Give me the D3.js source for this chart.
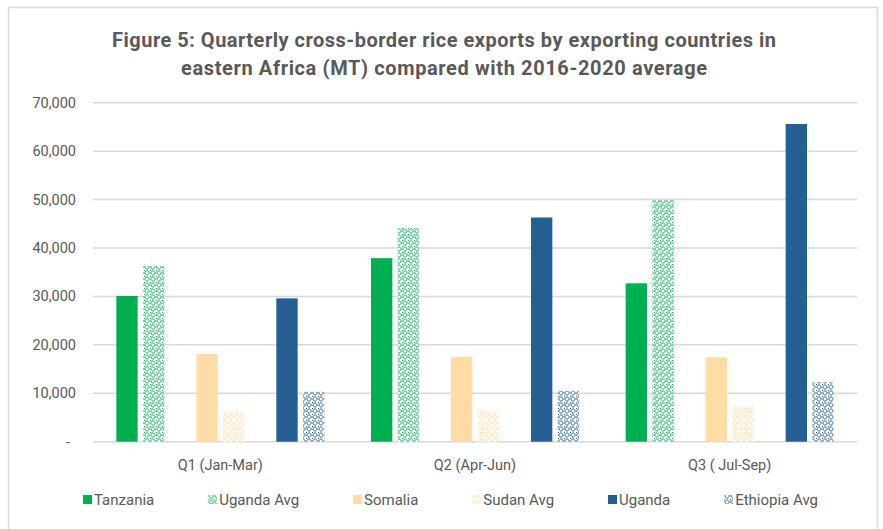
<!DOCTYPE html>
<html>
<head>
<meta charset="utf-8">
<script src="https://cdn.jsdelivr.net/npm/d3@7"></script>
<style>
  body { margin: 0; background: #fff; }
  svg text { font-family: "Liberation Sans Narrow", Roboto, "Noto Sans", sans-serif; fill: #595959; }
</style>
</head>
<body>
<div id="chart"></div>
<script>
// quarters on the x axis
const quarters = ["Q1 (Jan-Mar)", "Q2 (Apr-Jun)", "Q3 ( Jul-Sep)"];
// series, in drawing order
const seriesNames = ["Tanzania", "Uganda Avg", "Somalia", "Sudan Avg", "Uganda", "Ethiopia Avg"];
const seriesColors = ["#00b050", "#00b050", "#ffdba6", "#ffdba6", "#255e91", "#255e91"];
const seriesPatterned = [false, true, false, true, false, true];
// values per series, one per quarter (MT)
const tanzania = [30100, 37900, 32700];
const ugandaAvg = [36300, 44100, 49900];
const somalia = [18100, 17500, 17400];
const sudanAvg = [6200, 6400, 7400];
const uganda = [29600, 46300, 65600];
const ethiopiaAvg = [10300, 10500, 12300];
const seriesValues = [tanzania, ugandaAvg, somalia, sudanAvg, uganda, ethiopiaAvg];
// slot layout inside each quarter (two unused slots make the gaps)
const slots = ["Tanzania", "Uganda Avg", "_gap1", "Somalia", "Sudan Avg", "_gap2", "Uganda", "Ethiopia Avg"];
const yTicks = [0, 10000, 20000, 30000, 40000, 50000, 60000, 70000];

const W = 883, H = 529;
const margin = {top: 102.7, right: 26, bottom: 87.3, left: 93};

const svg = d3.select("#chart").append("svg")
  .attr("width", W).attr("height", H);

// outer frame
svg.append("rect")
  .attr("x", 8.5).attr("y", 7.5)
  .attr("width", 869).attr("height", 540)
  .attr("fill", "#fff").attr("stroke", "#d9d9d9").attr("stroke-width", 1.5);

// patterns for the average series
const defs = svg.append("defs");
seriesNames.forEach((s, i) => {
  if (!seriesPatterned[i]) return;
  const p = defs.append("pattern")
    .attr("id", "pat" + i)
    .attr("patternUnits", "userSpaceOnUse")
    .attr("width", 6).attr("height", 6);
  p.append("rect").attr("width", 6).attr("height", 6).attr("fill", "#fff");
  p.append("path")
    .attr("d", "M3,0.5 L5.5,3 L3,5.5 L0.5,3 Z")
    .attr("fill", "none").attr("stroke", seriesColors[i]).attr("stroke-width", 1);
  p.append("rect").attr("x", 0).attr("y", 0).attr("width", 1).attr("height", 1)
    .attr("fill", seriesColors[i]);
});

const x0 = d3.scaleBand()
  .domain(quarters)
  .range([margin.left, W - margin.right]);

const x1 = d3.scaleBand()
  .domain(slots)
  .range([0, x0.bandwidth()])
  .paddingInner(0.2)
  .paddingOuter(0.875);

const y = d3.scaleLinear()
  .domain([0, 70000])
  .range([H - margin.bottom, margin.top]);

// gridlines
svg.append("g")
  .selectAll("line")
  .data(yTicks)
  .join("line")
    .attr("x1", margin.left).attr("x2", W - margin.right)
    .attr("y1", d => y(d)).attr("y2", d => y(d))
    .attr("stroke", "#d9d9d9").attr("stroke-width", 1.5);

// y tick labels
svg.append("g")
  .selectAll("text")
  .data(yTicks)
  .join("text")
    .attr("x", d => d === 0 ? 70 : 76)
    .attr("y", d => y(d))
    .attr("dy", "0.35em")
    .attr("text-anchor", "end")
    .style("font-size", "14.5px")
    .text(d => d === 0 ? "-" : d3.format(",")(d));

// bars
const bars = [];
seriesNames.forEach((s, i) => {
  quarters.forEach((q, j) => {
    bars.push({series: s, idx: i, quarter: q, value: seriesValues[i][j]});
  });
});

svg.append("g")
  .selectAll("rect")
  .data(bars)
  .join("rect")
    .attr("x", d => x0(d.quarter) + x1(d.series))
    .attr("y", d => y(d.value))
    .attr("width", x1.bandwidth())
    .attr("height", d => y(0) - y(d.value))
    .attr("fill", d => seriesPatterned[d.idx] ? `url(#pat${d.idx})` : seriesColors[d.idx]);

// x labels
svg.append("g")
  .selectAll("text")
  .data(quarters)
  .join("text")
    .attr("x", d => x0(d) + x0.bandwidth() / 2)
    .attr("y", 470)
    .attr("text-anchor", "middle")
    .style("font-size", "14.5px")
    .text(d => d);

// title (stretched to the width it has in the original)
const title = ["Figure 5: Quarterly cross-border rice exports by exporting countries in",
               "eastern Africa (MT) compared with 2016-2020 average"];
const titleWidths = [664, 526];
svg.append("g")
  .selectAll("text")
  .data(title)
  .join("text")
    .attr("x", 444)
    .attr("y", (d, i) => 47 + i * 28)
    .attr("text-anchor", "middle")
    .attr("textLength", (d, i) => titleWidths[i])
    .attr("lengthAdjust", "spacing")
    .style("font-size", "20px")
    .style("font-weight", "bold")
    .text(d => d);

// legend, spread between the original's left and right ends
const legend = svg.append("g");
const items = legend.selectAll("g")
  .data(seriesNames)
  .join("g");
items.append("rect")
  .attr("width", 9).attr("height", 9)
  .attr("y", -10)
  .attr("fill", (d, i) => seriesPatterned[i] ? `url(#pat${i})` : seriesColors[i]);
items.append("text")
  .attr("x", 11)
  .style("font-size", "15px")
  .text(d => d);
const widths = [];
items.each(function () { widths.push(this.getBBox().width); });
const left = 83, right = 818;
const gap = (right - left - d3.sum(widths)) / (widths.length - 1);
let cx = left;
items.attr("transform", (d, i) => {
  const t = `translate(${cx},505)`;
  cx += widths[i] + gap;
  return t;
});
</script>
</body>
</html>
